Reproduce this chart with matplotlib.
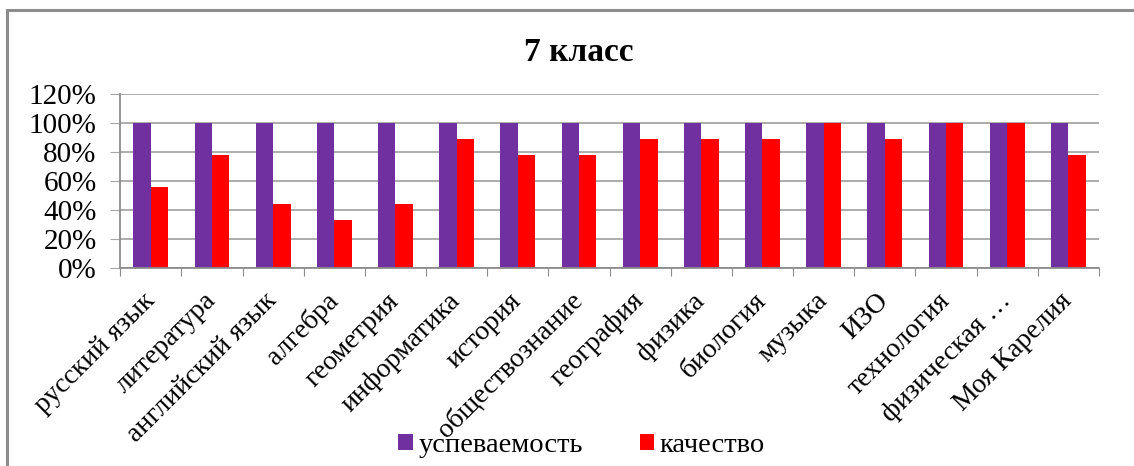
import numpy as np
import matplotlib.pyplot as plt
from matplotlib.patches import Rectangle
from matplotlib.ticker import PercentFormatter

subjects = ["русский язык", "литература", "английский язык", "алгебра",
            "геометрия", "информатика", "история", "обществознание",
            "география", "физика", "биология", "музыка", "ИЗО",
            "технология", "физическая …", "Моя Карелия"]
uspevaemost = [1.0, 1.0, 1.0, 1.0, 1.0, 1.0, 1.0, 1.0,
               1.0, 1.0, 1.0, 1.0, 1.0, 1.0, 1.0, 1.0]
kachestvo = [0.56, 0.78, 0.44, 0.33, 0.44, 0.89, 0.78, 0.78,
             0.89, 0.89, 0.89, 1.0, 0.89, 1.0, 1.0, 0.78]
y_ticks = [0, 0.2, 0.4, 0.6, 0.8, 1.0, 1.2]

plt.rcParams['font.family'] = ['Liberation Serif', 'DejaVu Serif']

fig = plt.figure(figsize=(11.34, 4.66), dpi=100)
ax = fig.add_axes([0.106, 0.425, 0.863, 0.373])

x = np.arange(len(subjects))
w = 0.285
ax.bar(x - w / 2, uspevaemost, w, color="#7030A0", label="успеваемость")
ax.bar(x + w / 2, kachestvo, w, color="#FF0000", label="качество")

ax.set_xlim(-0.5, len(subjects) - 0.5)
ax.set_ylim(0, 1.2)
ax.set_yticks(y_ticks)
ax.yaxis.set_major_formatter(PercentFormatter(1.0, decimals=0))
ax.grid(axis="y", color="#a6a6a6", linewidth=1.3)
ax.set_axisbelow(True)

# ticks at category borders, labels at centres
ax.set_xticks(np.arange(len(subjects) + 1) - 0.5)
ax.set_xticklabels([])
ax.set_xticks(x, minor=True)
ax.set_xticklabels(subjects, minor=True, rotation=45, ha="right",
                   va="center", rotation_mode="anchor", fontsize=20)
ax.tick_params(axis="x", which="minor", length=0, pad=21)
ax.tick_params(axis="x", which="major", length=6, color="#8c8c8c")
ax.tick_params(axis="y", length=7, color="#a6a6a6", labelsize=21, pad=10)

for s in ["top", "right"]:
    ax.spines[s].set_visible(False)
for s in ["left", "bottom"]:
    ax.spines[s].set_color("#8c8c8c")
    ax.spines[s].set_linewidth(1.3)

fig.text(0.51, 0.887, "7 класс", ha="center", va="center",
         fontsize=24, fontweight="bold")

fig.legend(loc="center", bbox_to_anchor=(0.513, 0.044), ncol=2, frameon=False,
           fontsize=20.5, handlelength=0.5, handleheight=0.5,
           handletextpad=0.2, columnspacing=2.0)

# outer chart frame
fig.patches.append(Rectangle((7 / 1134, -0.1), 1.2, 1.1 - 10 / 466,
                             transform=fig.transFigure, fill=False,
                             edgecolor="#8c8c8c", linewidth=2.2))

fig.savefig("out.png", dpi=100)
